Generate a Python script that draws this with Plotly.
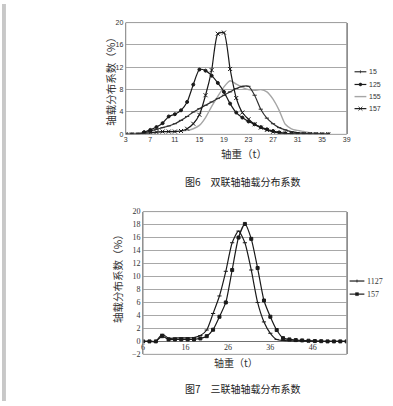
import plotly.graph_objects as go

# ---------------- Chart 1 (图6) data ----------------
x6 = list(range(3, 37))
s15 = [0, 0, 0.1, 0.3, 0.6, 0.9, 1.2, 1.5, 1.9, 2.5, 3.2, 4.0, 4.6, 5.2, 5.8, 6.4, 7.0,
       7.6, 8.2, 8.6, 8.6, 7.0, 4.5, 2.9, 1.9, 1.2, 0.8, 0.5, 0.3, 0.2, 0.1, 0.05, 0.03, 0.02]
s125 = [0, 0, 0, 0.4, 0.8, 1.3, 2.0, 3.2, 3.6, 4.3, 5.8, 8.9, 11.6, 11.4, 10.5, 9.2, 7.6,
        5.5, 3.9, 3.0, 2.3, 1.8, 1.3, 0.9, 0.6, 0.35, 0.2, 0.1, 0.05, 0.03, 0.02, 0.01, 0, 0]
s155 = [0, 0, 0, 0.1, 0.2, 0.3, 0.4, 0.5, 0.5, 0.6, 0.7, 1.0, 1.6, 3.0, 5.0, 6.8, 8.5,
        9.6, 9.0, 8.4, 8.0, 7.9, 8.0, 7.6, 6.3, 4.3, 1.8, 1.0, 0.7, 0.5, 0.3, 0.2, 0.1, 0.05]
s157 = [0, 0, 0, 0.2, 0.3, 0.4, 0.5, 0.5, 0.5, 0.6, 1.0, 1.9, 3.5, 7.0, 11.5, 18.0, 18.2,
        11.7, 6.5, 3.9, 2.7, 1.8, 1.2, 0.8, 0.45, 0.25, 0.15, 0.1, 0.08, 0.05, 0.05, 0.03, 0.02, 0.02]
ticks6 = [3, 7, 11, 15, 19, 23, 27, 31, 35, 39]

# ---------------- Chart 2 (图7) data ----------------
x7 = [6 + 1.5 * k for k in range(33)]
c1127 = [0, 0, 0, 1.1, 0.5, 0.5, 0.55, 0.55, 0.6, 0.9, 1.75, 4.3, 7.0, 10.8, 15.2, 17.0, 15.2,
         11.0, 6.0, 3.0, 1.25, 0.3, 0.15, 0.1, 0.08, 0.05, 0.03, 0.02, 0, 0, 0, 0, 0]
c157 = [0, 0, 0, 0.8, 0.3, 0.3, 0.3, 0.3, 0.3, 0.45, 0.8, 1.8, 3.8, 6.0, 11.0, 16.0, 18.1,
        15.8, 11.3, 6.3, 3.8, 1.75, 0.5, 0.3, 0.2, 0.15, 0.1, 0.05, 0.03, 0, 0, 0, 0]
ticks7 = [6, 16, 26, 36, 46]

W, H = 393, 406
def px(x): return x / W
def py(y): return 1 - y / H

CJK = "Noto Sans CJK SC"
SANS = "Liberation Sans"
SERIF = "Liberation Serif"

fig = go.Figure()

def add(x, y, name, color, width, marker, msize, xa, ya):
    fig.add_trace(go.Scatter(
        x=x, y=y, name=name, mode="lines+markers" if marker else "lines",
        line=dict(color=color, width=width, shape="spline", smoothing=0.6),
        marker=dict(symbol=marker or "circle", size=msize, color=color,
                    line=dict(color=color, width=1)),
        xaxis=xa, yaxis=ya, showlegend=False, hoverinfo="skip"))

add(x6, s155, "155", "#a6a6a6", 1.4, None, 0, "x", "y")
add(x6, s15, "15", "#303030", 1.2, "line-ew-open", 3, "x", "y")
add(x6, s125, "125", "#1a1a1a", 1.2, "circle", 3, "x", "y")
add(x6, s157, "157", "#1a1a1a", 1.2, "x-thin-open", 4, "x", "y")

add(x7, c1127, "1127", "#1a1a1a", 1.2, "line-ew-open", 3, "x2", "y2")
add(x7, c157, "157", "#1a1a1a", 1.2, "square", 3, "x2", "y2")

grid = "#a8a8a8"
fig.update_layout(
    width=W, height=H, margin=dict(l=0, r=0, t=0, b=0),
    paper_bgcolor="white", plot_bgcolor="white", hovermode=False,
    xaxis=dict(domain=[px(125.7), px(350)], range=[3, 39], tickvals=ticks6,
               showgrid=False, zeroline=False, showline=False, ticks="",
               tickfont=dict(family=SANS, size=7, color="#333"), anchor="y"),
    yaxis=dict(domain=[py(133.3), py(19)], range=[0, 20], tickvals=[0, 4, 8, 12, 16, 20],
               showgrid=True, gridcolor=grid, gridwidth=1, zeroline=False,
               showline=True, linecolor="#8c8c8c", mirror=True, ticks="",
               tickfont=dict(family=SANS, size=7, color="#333"), anchor="x"),
    xaxis2=dict(domain=[px(143.3), px(350)], range=[6, 54], tickvals=ticks7,
                showgrid=False, zeroline=False, showline=False, ticks="",
                anchor="free", position=py(345),
                tickfont=dict(family=SERIF, size=8, color="#333")),
    yaxis2=dict(domain=[py(358.3), py(212.3)], range=[-2, 20],
                tickvals=list(range(-2, 21, 2)),
                showgrid=True, gridcolor=grid, gridwidth=1, zeroline=True,
                zerolinecolor="#707070", zerolinewidth=1,
                showline=True, linecolor="#8c8c8c", mirror=True, ticks="",
                tickfont=dict(family=SERIF, size=8, color="#333"), anchor="x2"),
)

# frames for plot areas
for xr, yr in (("x domain", "y domain"), ("x2 domain", "y2 domain")):
    fig.add_shape(type="rect", xref=xr, yref=yr, x0=0, x1=1, y0=0, y1=1,
                  line=dict(color="#9a9a9a", width=1), layer="above")

# gray strip at far left
fig.add_shape(type="rect", xref="paper", yref="paper", x0=0, x1=px(4), y0=0, y1=1,
              fillcolor="#c8c8c8", line=dict(width=0), layer="below")

def ann(text, x, y, size, family=CJK, angle=0, color="#333", xanchor="center"):
    fig.add_annotation(text=text, x=px(x), y=py(y), xref="paper", yref="paper",
                       showarrow=False, textangle=angle, xanchor=xanchor, yanchor="middle",
                       borderpad=0, font=dict(family=family, size=size, color=color))

# titles
ann("轴载分布系数（%）", 110, 76, 10.5, angle=-90)
ann("轴重（t）", 246, 153, 10.5)
ann("图6　双联轴轴载分布系数", 245, 181.5, 10, color="#222")
ann("轴载分布系数（%）", 118, 278, 10.5, angle=-90)
ann("轴重（t）", 238, 367, 10)
ann("图7　三联轴轴载分布系数", 244.5, 393, 10, color="#222")

# manual legends
def leg(label, y, x0, x1, color, width, mark, family, size):
    fig.add_shape(type="line", xref="paper", yref="paper", x0=px(x0), x1=px(x1),
                  y0=py(y), y1=py(y), line=dict(color=color, width=width))
    xm = (x0 + x1) / 2
    if mark == "dot":
        fig.add_shape(type="circle", xref="paper", yref="paper",
                      x0=px(xm - 1.5), x1=px(xm + 1.5), y0=py(y + 1.5), y1=py(y - 1.5),
                      fillcolor=color, line=dict(color=color, width=0.5))
    elif mark == "x":
        for d in (1, -1):
            fig.add_shape(type="line", xref="paper", yref="paper",
                          x0=px(xm - 2), x1=px(xm + 2), y0=py(y - 2 * d), y1=py(y + 2 * d),
                          line=dict(color=color, width=0.8))
    elif mark == "bar":
        fig.add_shape(type="line", xref="paper", yref="paper",
                      x0=px(xm), x1=px(xm), y0=py(y - 1.5), y1=py(y + 1.5),
                      line=dict(color=color, width=0.8))
    elif mark == "sq":
        fig.add_shape(type="rect", xref="paper", yref="paper",
                      x0=px(xm - 1.5), x1=px(xm + 1.5), y0=py(y + 1.5), y1=py(y - 1.5),
                      fillcolor=color, line=dict(color=color, width=0.5))
    ann(label, x1 + 1.5, y, size, family=family, xanchor="left")

leg("15", 69.3, 358, 370, "#303030", 1.2, "bar", SANS, 7)
leg("125", 82.3, 358, 370, "#1a1a1a", 1.2, "dot", SANS, 7)
leg("155", 94.7, 358, 370, "#a6a6a6", 1.4, "", SANS, 7)
leg("157", 107, 358, 370, "#1a1a1a", 1.2, "x", SANS, 7)

leg("1127", 283.3, 353, 368, "#1a1a1a", 1.2, "bar", SERIF, 8)
leg("157", 296.7, 353, 368, "#1a1a1a", 1.2, "sq", SERIF, 8)

fig.write_html("out.html", config={"displayModeBar": False, "staticPlot": True},
               post_script="document.body.style.margin='0';document.body.style.padding='0';")
